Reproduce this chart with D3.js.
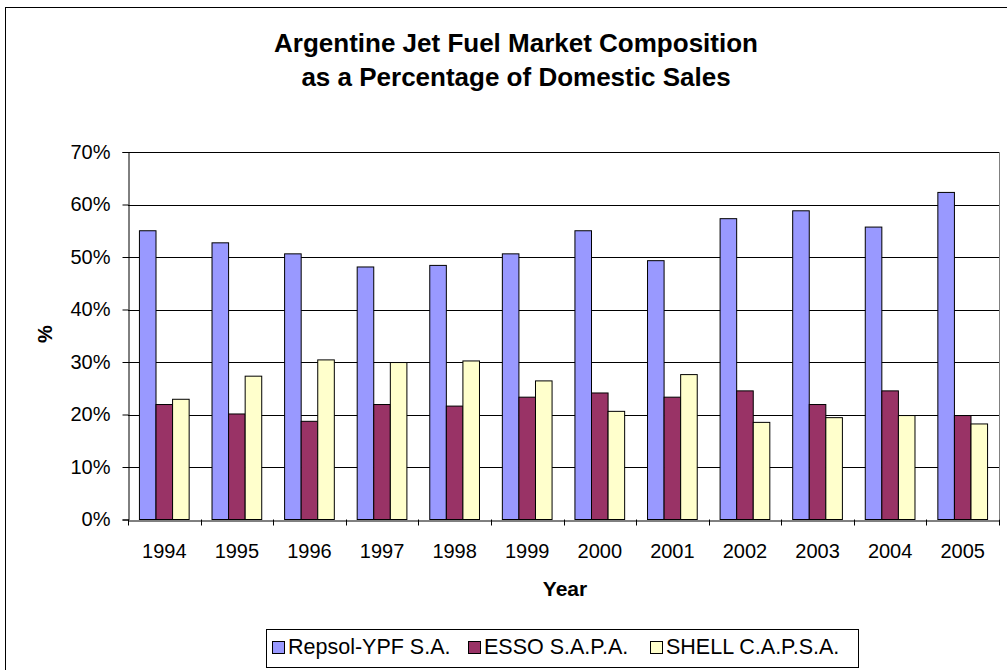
<!DOCTYPE html>
<html><head><meta charset="utf-8">
<script src="https://cdn.jsdelivr.net/npm/d3@7"></script>
<style>body{margin:0;background:#fff}svg{display:block}text{font-family:Arial,"Liberation Sans",sans-serif}</style>
</head><body>
<script>
const years = ["1994","1995","1996","1997","1998","1999","2000","2001","2002","2003","2004","2005"];
const seriesNames = ["Repsol-YPF S.A.","ESSO S.A.P.A.","SHELL C.A.P.S.A."];
const repsol = [55.0,52.7,50.6,48.1,48.4,50.6,55.0,49.3,57.3,58.8,55.7,62.3];
const esso   = [21.9,20.1,18.7,21.9,21.6,23.3,24.1,23.3,24.5,21.9,24.5,19.8];
const shell  = [22.9,27.3,30.4,29.9,30.2,26.4,20.6,27.6,18.5,19.4,19.8,18.2];
const colors = ["#9999FF","#993366","#FFFFCC"];
const yTicks = [0,10,20,30,40,50,60,70];

const W=1007,H=670;
const svg=d3.select("body").append("svg").attr("width",W).attr("height",H);
svg.append("rect").attr("x",5.5).attr("y",7.5).attr("width",1010).attr("height",700).attr("fill","#fff").attr("stroke","#000");

const m={l:128,t:152,r:999,b:519.5};
const x=d3.scaleBand().domain(years).range([m.l,m.r]).paddingInner(0).paddingOuter(0);
const y=d3.scaleLinear().domain([0,70]).range([m.b,m.t]);
const inner=d3.scaleBand().domain(seriesNames).range([0,x.bandwidth()]).paddingInner(0).paddingOuter(0.69);

// gridlines
svg.append("g").selectAll("line").data(yTicks.filter(d=>d>0)).join("line")
 .attr("x1",m.l).attr("x2",m.r).attr("y1",d=>Math.round(y(d))+0.5).attr("y2",d=>Math.round(y(d))+0.5)
 .attr("stroke","#000").attr("stroke-width",1);
svg.append("line").attr("x1",m.r+0.5).attr("x2",m.r+0.5).attr("y1",m.t).attr("y2",m.b).attr("stroke","#808080");

const data=[repsol,esso,shell];
const g=svg.append("g");
years.forEach((yr,i)=>{
  seriesNames.forEach((s,j)=>{
    const v=data[j][i];
    g.append("rect").attr("x",x(yr)+inner(s)).attr("y",y(v)).attr("width",inner.bandwidth()).attr("height",y(0)-y(v))
     .attr("fill",colors[j]).attr("stroke","#000").attr("stroke-width",1);
  });
});

// y axis
const ya=svg.append("g").attr("transform",`translate(${m.l+0.5},0)`)
 .call(d3.axisLeft(y).tickValues(yTicks).tickFormat(d=>d+"%").tickSize(6).tickPadding(12));
ya.selectAll("text").attr("font-size",20).attr("fill","#000");
ya.selectAll("line,path").attr("stroke","#000");
// x axis
const xa=svg.append("g").attr("transform",`translate(0,${Math.round(m.b)+0.5})`)
 .call(d3.axisBottom(x).tickSize(0).tickPadding(23));
xa.selectAll("text").attr("font-size",20).attr("fill","#000");
xa.select("path").attr("stroke","#000");
const bounds=years.map(d=>x(d)).concat([m.r]);
svg.append("g").selectAll("line").data(bounds).join("line")
 .attr("x1",d=>Math.round(d)+0.5).attr("x2",d=>Math.round(d)+0.5).attr("y1",m.b).attr("y2",m.b+6).attr("stroke","#000");

// titles
svg.append("text").attr("x",516).attr("y",52).attr("text-anchor","middle").attr("font-size",26).attr("font-weight","bold").text("Argentine Jet Fuel Market Composition");
svg.append("text").attr("x",516).attr("y",86).attr("text-anchor","middle").attr("font-size",26).attr("font-weight","bold").text("as a Percentage of Domestic Sales");
svg.append("text").attr("x",565).attr("y",596).attr("text-anchor","middle").attr("font-size",21).attr("font-weight","bold").text("Year");
svg.append("text").attr("transform","translate(52,334) rotate(-90)").attr("text-anchor","middle").attr("font-size",20).attr("font-weight","bold").text("%");

// legend
const lg=svg.append("g");
lg.append("rect").attr("x",266.5).attr("y",629.5).attr("width",592).attr("height",38).attr("fill","#fff").attr("stroke","#000");
const lx=[272,468,650];
seriesNames.forEach((s,j)=>{
  lg.append("rect").attr("x",lx[j]+0.5).attr("y",641.5).attr("width",12).attr("height",12).attr("fill",colors[j]).attr("stroke","#000");
  lg.append("text").attr("x",lx[j]+16).attr("y",654).attr("font-size",21.5).text(s);
});
</script>
</body></html>
